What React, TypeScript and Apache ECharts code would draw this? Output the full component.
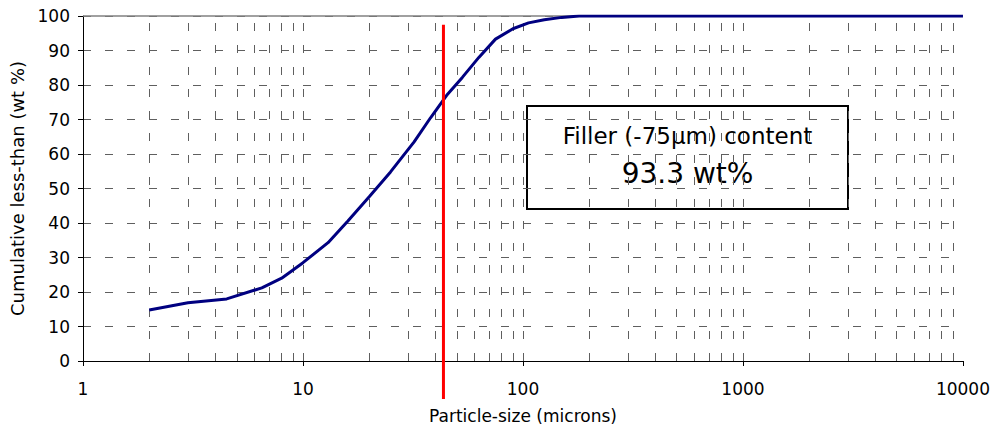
import React, { useEffect, useRef } from "react";
import * as echarts from "echarts";

const sizes = [2, 3, 4.5, 6.5, 8, 10, 13, 16, 20, 25, 32, 38, 45, 53, 63, 75, 90, 106, 125, 150, 180, 250, 500, 1000, 10000];
const cumulative = [14.8, 16.9, 18.0, 21.2, 24.0, 28.5, 34.3, 40.6, 47.6, 54.8, 63.5, 70.5, 77.0, 82.2, 88.0, 93.3, 96.3, 98.0, 98.9, 99.6, 100, 100, 100, 100, 100];

const cutSize = 43.5;
const cutLineRange = [97.5, -11];

const verticalGrid = [
  2, 3, 4, 5, 6, 7, 8, 9, 10,
  20, 30, 40, 50, 60, 70, 80, 90, 100,
  200, 300, 400, 500, 600, 700, 800, 900, 1000,
  2000, 3000, 4000, 5000, 6000, 7000, 8000, 9000,
];

const boxLine1 = "Filler (-75\u03bcm) content";
const boxLine2 = "93.3 wt%";

const FONT = "DejaVu Sans";

export default function App() {
  const ref = useRef<HTMLDivElement>(null);
  useEffect(() => {
    if (!ref.current) return;
    const chart = echarts.init(ref.current, undefined, { renderer: "svg" });
    const dash = [8, 14];
    const gridColor = "#5f5f5f";
    chart.setOption({
      animation: false,
      backgroundColor: "#ffffff",
      textStyle: { fontFamily: FONT },
      grid: { left: 83, right: 28, top: 16, bottom: 68, containLabel: false },
      xAxis: {
        type: "log",
        logBase: 10,
        min: 1,
        max: 10000,
        name: "Particle-size (microns)",
        nameLocation: "middle",
        nameGap: 46,
        nameTextStyle: { fontFamily: FONT, fontSize: 17, color: "#000" },
        axisLine: { show: true, lineStyle: { color: "#000", width: 1 } },
        axisTick: { show: true, length: 5, inside: false, lineStyle: { color: "#000" } },
        axisLabel: {
          fontFamily: FONT,
          fontSize: 17,
          color: "#000",
          margin: 19,
          formatter: (v: number) => String(Math.round(v)),
        },
        splitLine: { show: false },
        minorTick: { show: false },
      },
      yAxis: {
        type: "value",
        min: 0,
        max: 100,
        interval: 10,
        name: "Cumulative less-than (wt %)",
        nameLocation: "middle",
        nameGap: 56,
        nameTextStyle: { fontFamily: FONT, fontSize: 18, color: "#000" },
        axisLine: { show: true, lineStyle: { color: "#000", width: 1 } },
        axisTick: { show: true, length: 5, inside: false, lineStyle: { color: "#000" } },
        axisLabel: { fontFamily: FONT, fontSize: 17, color: "#000", margin: 13 },
        splitLine: { show: true, lineStyle: { color: gridColor, type: dash, width: 1 } },
      },
      series: [
        {
          type: "line",
          name: "grid",
          data: [],
          silent: true,
          markLine: {
            silent: true,
            symbol: ["none", "none"],
            label: { show: false },
            emphasis: { disabled: true },
            lineStyle: { color: gridColor, type: dash, width: 1 },
            data: verticalGrid.map((v) => ({ xAxis: v })),
          },
        },
        {
          type: "line",
          name: "top",
          data: [],
          silent: true,
          markLine: {
            silent: true,
            symbol: ["none", "none"],
            label: { show: false },
            emphasis: { disabled: true },
            lineStyle: { color: "#808080", type: "solid", width: 1.5 },
            data: [{ yAxis: 100 }],
          },
        },
        {
          type: "line",
          name: "cumulative",
          data: sizes.map((s, i) => [s, cumulative[i]]),
          symbol: "none",
          smooth: false,
          lineStyle: { color: "#000080", width: 3 },
          itemStyle: { color: "#000080" },
          z: 5,
        },
        {
          type: "line",
          name: "cut",
          data: cutLineRange.map((y) => [cutSize, y]),
          symbol: "none",
          clip: false,
          lineStyle: { color: "#ff0000", width: 3 },
          itemStyle: { color: "#ff0000" },
          z: 6,
        },
      ],
      graphic: [
        {
          type: "group",
          left: 526,
          top: 105,
          z: 10,
          children: [
            {
              type: "rect",
              shape: { x: 0, y: 0, width: 321, height: 103 },
              style: { fill: "#ffffff", stroke: "#000000", lineWidth: 2 },
            },
            {
              type: "text",
              x: 160.5,
              y: 30,
              style: {
                text: boxLine1,
                fontFamily: FONT,
                fontSize: 23,
                fill: "#000",
                align: "center",
                verticalAlign: "middle",
              },
            },
            {
              type: "text",
              x: 160.5,
              y: 67,
              style: {
                text: boxLine2,
                fontFamily: FONT,
                fontSize: 28,
                fill: "#000",
                align: "center",
                verticalAlign: "middle",
              },
            },
          ],
        },
      ],
    });
    return () => chart.dispose();
  }, []);
  return (
    <div
      ref={ref}
      style={{ position: "fixed", left: 0, top: 0, width: 993, height: 429, background: "#fff" }}
    />
  );
}
